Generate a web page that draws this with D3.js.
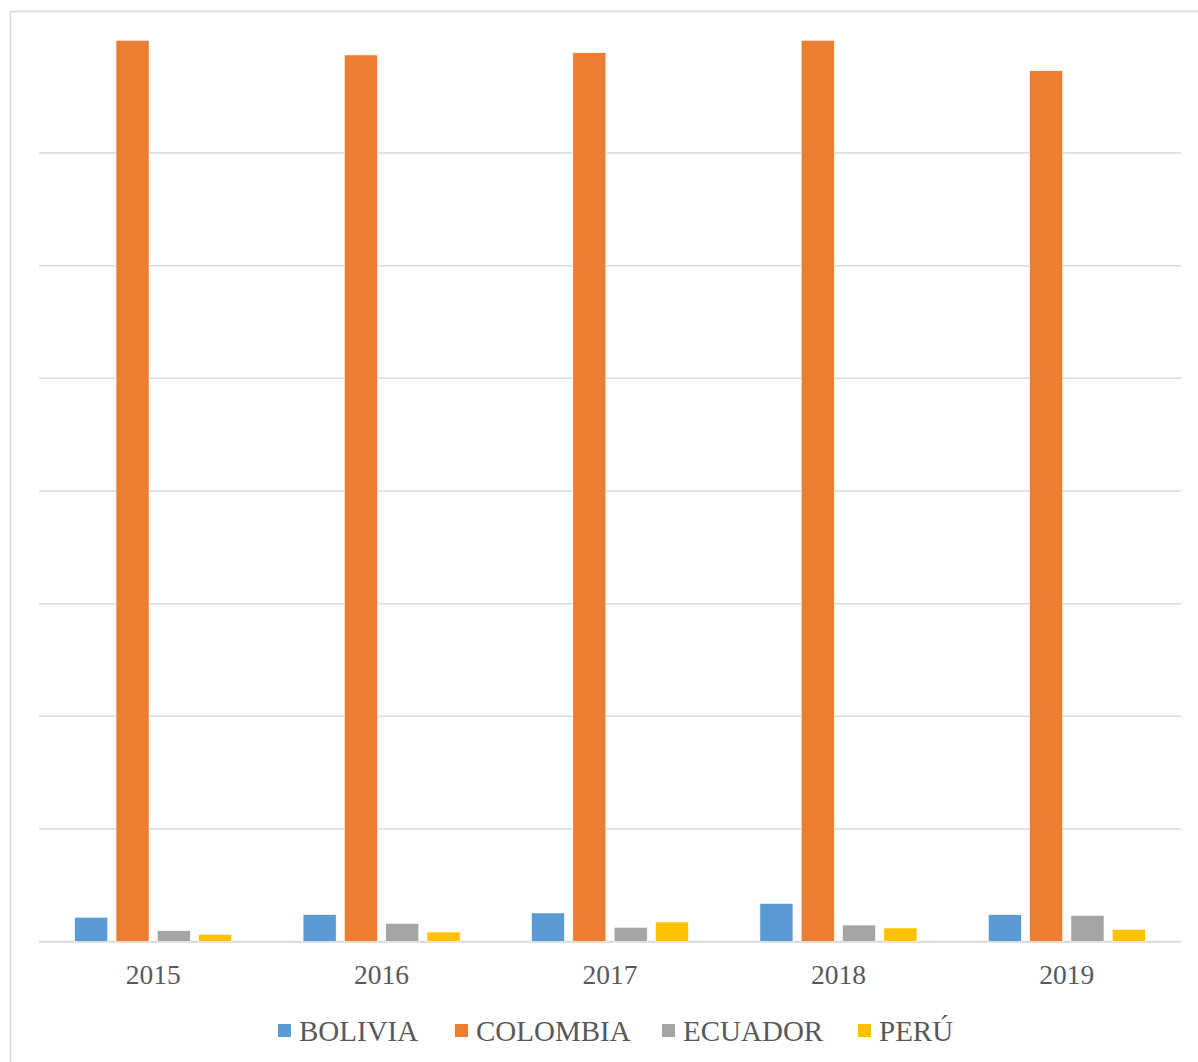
<!DOCTYPE html>
<html>
<head>
<meta charset="utf-8">
<script src="https://cdn.jsdelivr.net/npm/d3@7"></script>
<style>
  body { margin: 0; background: #fff; }
  svg { display: block; }
</style>
</head>
<body>
<svg id="mysvg" width="1198" height="1062"></svg>
<script>
// chart data (units of the value axis)
let years = ["2015", "2016", "2017", "2018", "2019"];
let countries = ["BOLIVIA", "COLOMBIA", "ECUADOR", "PERÚ"];
let bolivia  = [0.217, 0.240, 0.255, 0.340, 0.240];
let colombia = [8.00, 7.87, 7.89, 8.00, 7.73];
let ecuador  = [0.098, 0.163, 0.128, 0.148, 0.234];
let peru     = [0.066, 0.086, 0.175, 0.122, 0.110];
let gridTicks = [0, 1, 2, 3, 4, 5, 6, 7];
let colors = ["#5B9BD5", "#ED7D31", "#A5A5A5", "#FFC000"];

let seriesValues = [bolivia, colombia, ecuador, peru];

let svg = d3.select('#mysvg');

// outer chart frame
svg.append("rect")
    .attr("x", 10.5).attr("y", 11.5)
    .attr("width", 1200).attr("height", 1060)
    .attr("fill", "white")
    .attr("stroke", "#d9d9d9")
    .attr("stroke-width", 1.5);

let plotLeft = 39, plotRight = 1181, plotTop = 40.3, plotBottom = 941.7;

let x0 = d3.scaleBand().domain(years).range([plotLeft, plotRight]);
let x1 = d3.scaleBand().domain(countries)
    .range([35.7, x0.bandwidth() - 35.7])
    .paddingInner(0.2);
let y = d3.scaleLinear().domain([0, 8]).range([plotBottom, plotTop]);

// gridlines
svg.append("g")
    .selectAll("line")
    .data(gridTicks)
    .enter()
    .append("line")
    .attr("x1", plotLeft).attr("x2", plotRight)
    .attr("y1", d => y(d)).attr("y2", d => y(d))
    .attr("stroke", "#d9d9d9")
    .attr("stroke-width", d => d == 0 ? 2 : 1.5);

// bars
let rows = [];
years.forEach(function(yr, i) {
    countries.forEach(function(c, j) {
        rows.push({year: yr, country: c, value: seriesValues[j][i], index: j});
    });
});

svg.append("g")
    .selectAll("rect")
    .data(rows)
    .enter()
    .append("rect")
    .attr("x", d => x0(d.year) + x1(d.country))
    .attr("y", d => y(d.value))
    .attr("width", x1.bandwidth())
    .attr("height", d => y(0) - y(d.value))
    .attr("fill", d => colors[d.index])
    .attr("stroke", "white")
    .attr("stroke-width", 0.6);

// category labels
let xAxis = svg.append("g")
    .attr("transform", "translate(0," + plotBottom + ")")
    .call(d3.axisBottom(x0).tickSize(0).tickPadding(23));
xAxis.select(".domain").remove();
xAxis.selectAll("text")
    .attr("font-family", "'Liberation Serif', 'Times New Roman', serif")
    .attr("font-size", 27.5)
    .attr("fill", "#595959");

// legend
let legendX = [278, 455, 662, 858];
let legend = svg.append("g")
    .selectAll("g.legend")
    .data(countries)
    .enter()
    .append("g")
    .attr("class", "legend")
    .attr("transform", (d, i) => "translate(" + legendX[i] + ",1024)");

legend.append("rect")
    .attr("width", 13).attr("height", 13)
    .attr("fill", (d, i) => colors[i]);

legend.append("text")
    .attr("x", 21)
    .attr("y", 16.5)
    .attr("font-family", "'Liberation Serif', 'Times New Roman', serif")
    .attr("font-size", 29)
    .attr("fill", "#595959")
    .text(d => d);
</script>
</body>
</html>
